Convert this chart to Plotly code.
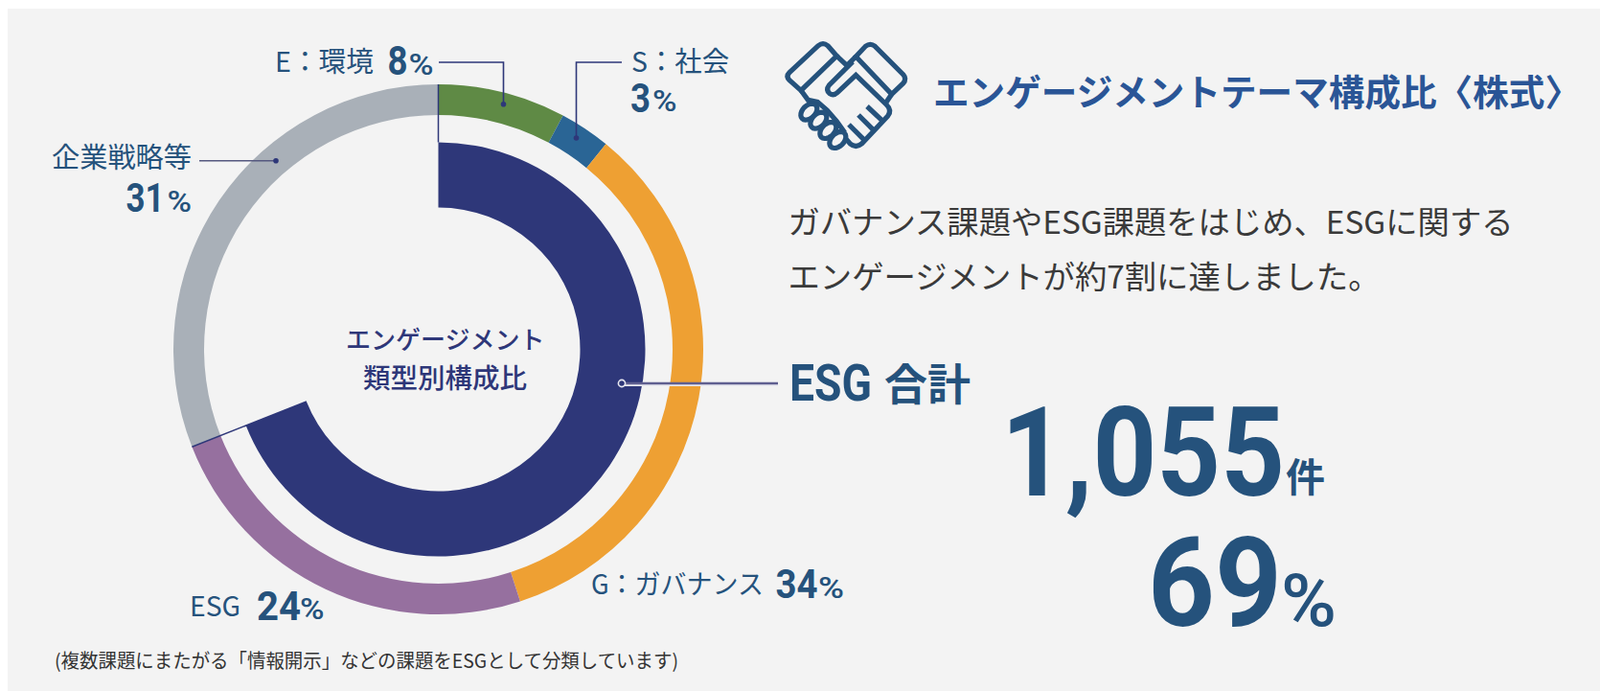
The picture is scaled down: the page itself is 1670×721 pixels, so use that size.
import json
import numpy as np
import plotly.graph_objects as go

W, H = 1670, 721

# ---- data ----
THEME_LABELS = ["E:環境", "S:社会", "G:ガバナンス", "ESG", "企業戦略等"]
THEME_VALUES = [7.8, 3.1, 34.1, 24.0, 31.0]
THEME_PERCENT = ["8", "3", "34", "24", "31"]
THEME_COLORS = ["#5f8a45", "#2a6595", "#eea033", "#96709f", "#a9b0b8"]
TYPE_LABELS = ["ESG合計", "その他"]
TYPE_VALUES = [69, 31]
TYPE_COLORS = ["#2e3779", "rgba(0,0,0,0)"]
TOTAL_COUNT = "1,055"

TEXT = "#25527c"
NAVY = "#2e3779"
JP = "Noto Sans CJK JP"
NUM = "Roboto"
DESC = {JP: 0.288, NUM: 0.244}

CX, CY = 457.5, 364.5
R_OUT, R_OUT_IN = 276.5, 244.5
R_IN, R_IN_IN = 216, 148


def px(x):
    return x / W


def py(y):
    return 1 - y / H


def dom(r):
    return dict(x=[px(CX - r), px(CX + r)], y=[py(CY + r), py(CY - r)])


fig = go.Figure()
fig.add_trace(go.Pie(labels=THEME_LABELS, values=THEME_VALUES, sort=False, direction="clockwise",
                     rotation=0, hole=R_OUT_IN / R_OUT, domain=dom(R_OUT), textinfo="none",
                     marker=dict(colors=THEME_COLORS, line=dict(width=0)), showlegend=False))
fig.add_trace(go.Pie(labels=TYPE_LABELS, values=TYPE_VALUES, sort=False, direction="clockwise",
                     rotation=0, hole=R_IN_IN / R_IN, domain=dom(R_IN), textinfo="none",
                     marker=dict(colors=TYPE_COLORS, line=dict(width=0)), showlegend=False))

annotations = []
fits = []


def text(x, base, s, size, family=JP, anchor="left", color=TEXT, weight=400, fit=None):
    if fit is not None:
        fits.append(dict(i=len(annotations), x=x, w=fit))
    annotations.append(dict(
        x=px(x), y=py(base + DESC[family] * size), xref="paper", yref="paper",
        text=s, showarrow=False, xanchor=anchor, yanchor="bottom", borderpad=0, borderwidth=0,
        font=dict(family=family, size=size, color=color, weight=weight)))


shapes = [dict(type="rect", xref="paper", yref="paper", x0=px(8), x1=1, y0=0, y1=py(9),
               fillcolor="#f3f3f3", line_width=0, layer="below")]


def line(points, color=NAVY, width=1.6):
    d = "M " + " L ".join(f"{px(a):.5f},{py(b):.5f}" for a, b in points)
    shapes.append(dict(type="path", path=d, xref="paper", yref="paper",
                       line=dict(color=color, width=width)))


def dot(x, y, r, fill=NAVY, edge=None, lw=0):
    shapes.append(dict(type="circle", xref="paper", yref="paper", x0=px(x - r), x1=px(x + r),
                       y0=py(y + r), y1=py(y - r), fillcolor=fill,
                       line=dict(color=edge or fill, width=lw)))


# ---- leader lines ----
line([(458, 65), (525.5, 65), (525.5, 108.7)])
dot(525.5, 108.7, 2.8)
line([(649, 65), (601.5, 65), (601.5, 144)])
dot(601.5, 144, 2.8)
line([(208, 167.7), (288, 167.7)], color="#55587f")
dot(288, 167.7, 2.8)
line([(649, 402), (812, 402)], color="#e9e9f0", width=2)
line([(649, 400), (812, 400)], color="#5f5f90", width=2.4)
dot(649, 400, 3.6, fill=NAVY, edge="#e6e6ee", lw=1.6)

# separators at start and end of the 69 % arc
line([(CX, CY - R_OUT), (CX, CY - R_IN)], width=1.5)
ang = np.deg2rad(TYPE_VALUES[0] / 100 * 360)
line([(CX + R_OUT * np.sin(ang), CY - R_OUT * np.cos(ang)),
      (CX + R_IN_IN * np.sin(ang), CY - R_IN_IN * np.cos(ang))], width=1.5)

# ---- handshake icon ----
ICON = TEXT
ICON_W = 5.2


def ic(x, y):
    return f"{px(810 + x / 3):.5f},{py(35 + y / 3):.5f}"


def icon_path(cmds):
    d = ""
    for c in cmds:
        d += c[0] + " " + " ".join(ic(*p) for p in c[1:]) + " " if len(c) > 1 else "Z "
    shapes.append(dict(type="path", path=d.strip(), xref="paper", yref="paper",
                       line=dict(color=ICON, width=ICON_W)))


icon_path([("M", (78, 178)), ("L", (42, 146)), ("Q", (30, 134), (42, 122)), ("L", (132, 38)),
           ("Q", (147, 26), (162, 38)), ("L", (190, 70)), ("Z",)])
icon_path([("M", (250, 72)), ("L", (280, 40)), ("Q", (295, 28), (310, 40)), ("L", (398, 128)),
           ("Q", (410, 142), (398, 156)), ("L", (362, 190)), ("Z",)])
icon_path([("M", (190, 70)), ("L", (222, 100)), ("L", (250, 72))])
icon_path([("M", (240, 88)), ("L", (166, 162)), ("Q", (155, 176), (168, 188)), ("Q", (180, 196), (192, 185)),
           ("L", (250, 130)), ("L", (345, 222)), ("Q", (364, 240), (350, 258)), ("L", (268, 345)),
           ("Q", (250, 360), (232, 345)), ("L", (215, 325))])
icon_path([("M", (78, 178)), ("L", (100, 208)), ("L", (130, 214)), ("L", (160, 240)), ("L", (190, 275)), ("L", (215, 310))])
icon_path([("M", (362, 190)), ("L", (345, 215))])
icon_path([("M", (285, 228)), ("L", (335, 275))])
icon_path([("M", (258, 255)), ("L", (305, 302))])
icon_path([("M", (228, 285)), ("L", (275, 332))])
for fx, fy in [(103, 245), (133, 272), (163, 303), (193, 333)]:
    t = np.linspace(0, 2 * np.pi, 25)[:-1]
    a, b = 30, 20
    c, s = np.cos(np.pi / 4), np.sin(np.pi / 4)
    pts = [(fx + a * np.cos(v) * c + b * np.sin(v) * s, fy - a * np.cos(v) * s + b * np.sin(v) * c) for v in t]
    d = "M " + " L ".join(ic(*p) for p in pts) + " Z"
    shapes.append(dict(type="path", path=d, xref="paper", yref="paper",
                       line=dict(color=ICON, width=ICON_W), fillcolor="#f3f3f3"))

# ---- labels ----
text(287, 75, "E\uff1a環境", 29, fit=103)
text(404.6, 78, THEME_PERCENT[0], 42, NUM, weight=700, fit=21)
text(426.6, 78, "%", 31, NUM, weight=500, fit=26)

text(659, 75, "S\uff1a社会", 29, fit=102)
text(658, 116.7, THEME_PERCENT[1], 42, NUM, weight=700, fit=21)
text(681, 116.7, "%", 31, NUM, weight=500, fit=25.5)

text(54, 175, "企業戦略等", 29, fit=146)
text(131.6, 221, THEME_PERCENT[4], 42, NUM, weight=700, fit=40)
text(174.5, 221, "%", 31, NUM, weight=500, fit=25.5)

text(617, 620, "G\uff1aガバナンス", 28, fit=180)
text(809.6, 624, THEME_PERCENT[2], 42, NUM, weight=700, fit=44)
text(854, 624, "%", 31, NUM, weight=500, fit=27)

text(198, 642.7, "ESG", 29, fit=53)
text(268, 646.7, THEME_PERCENT[3], 42, NUM, weight=700, fit=46)
text(313, 646.7, "%", 31, NUM, weight=500, fit=25.5)

text(464, 364, "エンゲージメント", 26, anchor="center", color=NAVY, weight=500)
text(464.5, 405, "類型別構成比", 28.5, anchor="center", color=NAVY, weight=500)

text(57, 697, "(複数課題にまたがる「情報開示」などの課題をESGとして分類しています)", 20, color="#333333", fit=651)

text(974, 110, "エンゲージメントテーマ構成比〈株式〉", 38, color="#2a5596", weight=700, fit=676)
text(822.5, 244, "ガバナンス課題やESG課題をはじめ、ESGに関する", 33, color="#3a3a3a", fit=757)
text(822.5, 301, "エンゲージメントが約7割に達しました。", 33, color="#3a3a3a", fit=618)

text(824, 418, "ESG", 53, NUM, weight=700, fit=86)
text(923, 418, "合計", 45, weight=700)

text(1045, 517, TOTAL_COUNT, 130, NUM, weight=700, fit=296)
text(1342, 513, "件", 41, weight=700)
text(1198, 653, str(TYPE_VALUES[0]), 129, NUM, weight=700, fit=140)
text(1337, 653, "%", 76, NUM, weight=500, fit=58)

fig.update_layout(width=W, height=H, margin=dict(l=0, r=0, t=0, b=0), autosize=False,
                  paper_bgcolor="#ffffff", plot_bgcolor="rgba(0,0,0,0)",
                  shapes=shapes, annotations=annotations, showlegend=False)

POST = """
document.body.style.margin='0';
document.documentElement.style.overflow='hidden';
var FITS = __FITS__;
var gd = document.getElementById('{plot_id}');
function applyFits() {
  var root = gd.getBoundingClientRect();
  var groups = gd.querySelectorAll('.annotation');
  FITS.forEach(function (f) {
    var g = groups[f.i];
    if (!g) return;
    var t = g.querySelector('text');
    if (!t) return;
    t.setAttribute('lengthAdjust', 'spacingAndGlyphs');
    t.setAttribute('textLength', f.w);
    var left = t.getBoundingClientRect().left - root.left;
    var x0 = parseFloat(t.getAttribute('x')) || 0;
    t.setAttribute('x', x0 + (f.x - left));
  });
}
applyFits();
if (gd.on) gd.on('plotly_afterplot', applyFits);
setTimeout(applyFits, 50);
setTimeout(applyFits, 300);
""".replace("__FITS__", json.dumps(fits))

fig.write_html("out.html", config=dict(displayModeBar=False), post_script=POST)
